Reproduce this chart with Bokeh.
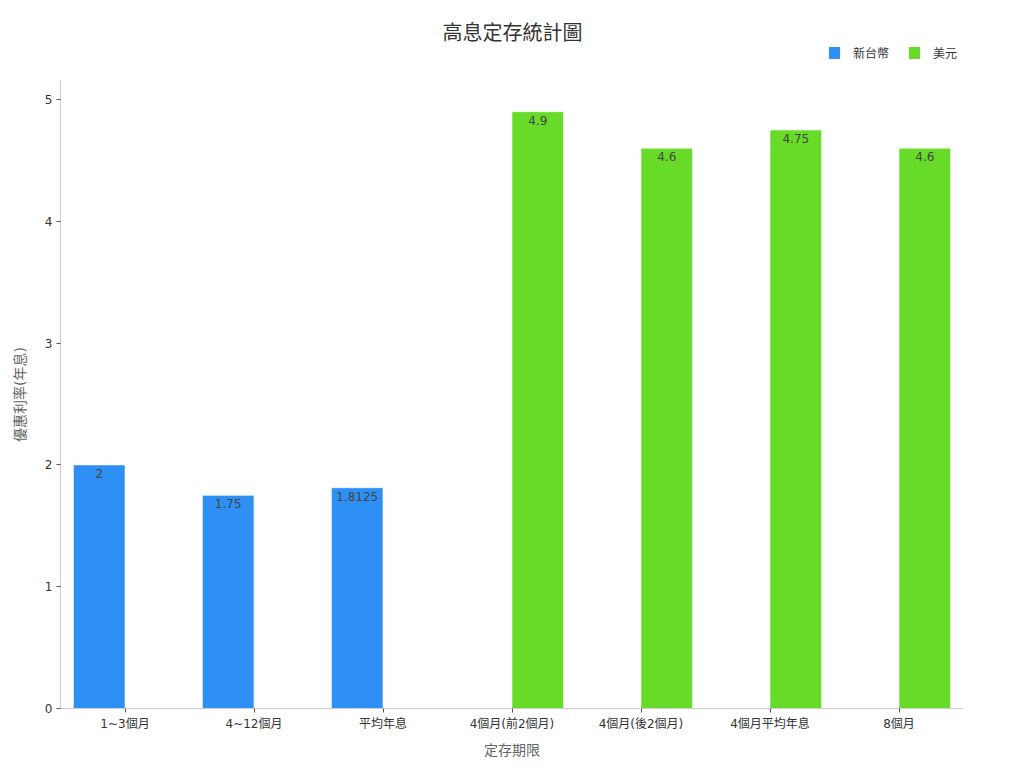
from bokeh.plotting import figure
from bokeh.layouts import column
from bokeh.models import FactorRange, Range1d, ColumnDataSource, Legend, LegendItem, Label
from bokeh.transform import dodge
from bokeh.core.properties import value
from bokeh.embed import file_html
from bokeh.resources import INLINE

categories = ["1~3個月", "4~12個月", "平均年息", "4個月(前2個月)", "4個月(後2個月)", "4個月平均年息", "8個月"]
twd_values = [2, 1.75, 1.8125, 0, 0, 0, 0]
usd_values = [0, 0, 0, 4.9, 4.6, 4.75, 4.6]
series_names = ["新台幣", "美元"]
y_ticks = [0, 1, 2, 3, 4, 5]
title_text = "高息定存統計圖"

FONT = "DejaVu Sans, 'Noto Sans CJK TC', sans-serif"
BLUE = "#2E90F5"
GREEN = "#67DB27"
colors = [BLUE, GREEN]

def fmt(v):
    return ("%g" % v)

def make_source(vals):
    cats = [c for c, v in zip(categories, vals) if v != 0]
    vs = [v for v in vals if v != 0]
    return ColumnDataSource(dict(cat=cats, val=vs, lab=[fmt(v) for v in vs]))

src_twd = make_source(twd_values)
src_usd = make_source(usd_values)

W = 1016
BL, BR = 60, 53

# ---- header (title + legend) ----
head = figure(width=W, height=80, x_range=Range1d(BL, W - BR), y_range=Range1d(0, 80),
              x_axis_type=None, y_axis_type=None, output_backend="svg", toolbar_location=None,
              min_border_left=BL, min_border_right=BR, min_border_top=0, min_border_bottom=0)
head.outline_line_color = None
head.xgrid.visible = False
head.ygrid.visible = False
head.add_layout(Label(x=512, y=48, text=title_text, text_align="center", text_baseline="middle",
                      text_font=FONT, text_font_size="20px", text_color="#333333"))
# legend swatches: degenerate quads placed outside the visible header range
swatch = ColumnDataSource(dict(l=[0], r=[0], t=[0], b=[0]))
lr = [head.quad(left="l", right="r", top="t", bottom="b", source=swatch,
                fill_color=c, line_color=None) for c in colors]
legend = Legend(items=[LegendItem(label=series_names[i], renderers=[lr[i]]) for i in range(2)],
                orientation="horizontal", location=(767, 19),
                label_text_font=FONT, label_text_font_size="12px", label_text_color="#333333",
                glyph_width=14, glyph_height=15, label_height=15, label_standoff=12, spacing=18,
                padding=0, margin=0, border_line_color=None, background_fill_alpha=0)
head.add_layout(legend, "center")

# ---- main chart ----
p = figure(x_range=FactorRange(*categories), y_range=Range1d(0, 5.156),
           width=W, height=680, output_backend="svg", toolbar_location=None,
           min_border_left=BL, min_border_right=BR, min_border_top=0, min_border_bottom=52)
p.x_range.range_padding = 0

p.vbar(x=dodge("cat", -0.2, range=p.x_range), top="val", width=0.4, source=src_twd,
       fill_color=BLUE, line_color="white", line_alpha=0.6, line_width=1)
p.vbar(x=dodge("cat", 0.2, range=p.x_range), top="val", width=0.4, source=src_usd,
       fill_color=GREEN, line_color="white", line_alpha=0.6, line_width=1)

for src, off in ((src_twd, -0.2), (src_usd, 0.2)):
    p.text(x=dodge("cat", off, range=p.x_range), y="val", text="lab", source=src,
           text_align="center", text_baseline="top", y_offset=4,
           text_font=value(FONT), text_font_size="12px", text_color="#444444")

p.xgrid.visible = False
p.ygrid.visible = False
p.outline_line_color = None

for ax in (p.xaxis[0], p.yaxis[0]):
    ax.axis_line_color = "#cccccc"
    ax.major_tick_line_color = "#555555"
    ax.major_tick_in = 0
    ax.major_tick_out = 4
    ax.minor_tick_line_color = None
    ax.major_label_text_font = FONT
    ax.major_label_text_font_size = "12px"
    ax.major_label_text_color = "#333333"
    ax.axis_label_text_font = FONT
    ax.axis_label_text_font_size = "14px"
    ax.axis_label_text_font_style = "normal"
    ax.axis_label_text_color = "#666666"

p.xaxis.axis_label = "定存期限"
p.xaxis.major_label_standoff = 4
p.xaxis.axis_label_standoff = 8
p.yaxis.axis_label = "優惠利率(年息)"
p.yaxis.ticker = y_ticks
p.yaxis.major_label_standoff = 4
p.yaxis.axis_label_standoff = 14

layout = column(head, p, spacing=0)
open("out.html", "w").write(file_html(layout, INLINE))
